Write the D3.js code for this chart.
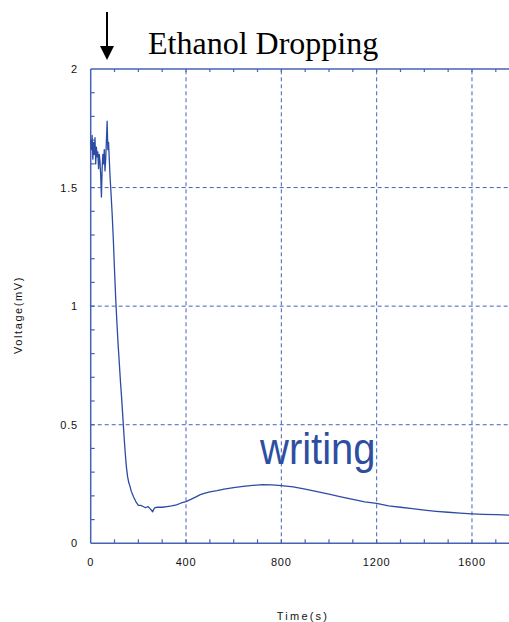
<!DOCTYPE html>
<html>
<head>
<meta charset="utf-8">
<script src="https://cdn.jsdelivr.net/npm/d3@7"></script>
<style>
  html, body { margin: 0; padding: 0; background: #fff; }
  svg { display: block; }
  .tick-label { font-family: "Liberation Sans", Arial, sans-serif; font-size: 11px; fill: #111; letter-spacing: 0.8px; }
</style>
</head>
<body>
<svg id="chart" width="509" height="622"></svg>
<script>
/* ── DATA ─────────────────────────────────────────────────────────────── */
const timeS = [0,3,6,9,12,15,18,21,24,27,30,33,36,39,42,45,48,51,54,57,60,63,66,69,72,75,78,81,85,90,95,100,105,110,115,120,125,130,135,140,145,150,155,160,165,170,180,190,200,210,220,230,240,250,260,265,270,280,300,320,340,360,380,400,420,440,460,480,500,530,560,600,640,680,720,760,800,850,900,950,1000,1050,1100,1150,1200,1250,1300,1350,1400,1450,1500,1550,1600,1650,1700,1760];
const voltage = [1.70,1.66,1.72,1.62,1.69,1.64,1.71,1.60,1.67,1.63,1.65,1.58,1.64,1.61,1.55,1.46,1.58,1.64,1.60,1.66,1.57,1.62,1.70,1.78,1.66,1.69,1.62,1.55,1.48,1.39,1.28,1.15,1.03,0.93,0.84,0.76,0.68,0.61,0.53,0.45,0.38,0.32,0.28,0.255,0.24,0.22,0.195,0.175,0.16,0.16,0.155,0.15,0.155,0.145,0.133,0.145,0.15,0.152,0.152,0.155,0.158,0.162,0.17,0.176,0.185,0.195,0.205,0.212,0.217,0.222,0.228,0.235,0.24,0.244,0.247,0.246,0.243,0.238,0.228,0.218,0.207,0.196,0.185,0.175,0.168,0.158,0.152,0.146,0.14,0.135,0.131,0.127,0.124,0.122,0.121,0.119];

const xMajor = [0, 400, 800, 1200, 1600];
const xMajorLabels = ['0', '400', '800', '1200', '1600'];
const yMajor = [0, 0.5, 1, 1.5, 2];
const yMajorLabels = ['0', '0.5', '1', '1.5', '2'];

/* ── LAYOUT ───────────────────────────────────────────────────────────── */
const AXIS = '#4562b6';
const LINE = '#2c4ca4';
const svg = d3.select('#chart');

const x = d3.scaleLinear().domain([0, 1800]).range([90.7, 90.7 + 1800 * 0.2383]);
const y = d3.scaleLinear().domain([0, 2]).range([543.3, 69]);

// gridlines
svg.append('g').selectAll('line')
  .data(xMajor.slice(1))
  .join('line')
  .attr('x1', d => x(d)).attr('x2', d => x(d))
  .attr('y1', y(0)).attr('y2', y(2))
  .attr('stroke', AXIS).attr('stroke-width', 1).attr('stroke-dasharray', '4,3');

svg.append('g').selectAll('line')
  .data(yMajor.slice(1, -1))
  .join('line')
  .attr('x1', x(0)).attr('x2', 509)
  .attr('y1', d => y(d)).attr('y2', d => y(d))
  .attr('stroke', AXIS).attr('stroke-width', 1).attr('stroke-dasharray', '4,3');

// frame (left, top, bottom)
const frame = svg.append('g').attr('stroke', AXIS).attr('stroke-width', 1.5);
frame.append('line').attr('x1', x(0)).attr('x2', x(0)).attr('y1', y(0)).attr('y2', y(2));
frame.append('line').attr('x1', x(0)).attr('x2', 509).attr('y1', y(2)).attr('y2', y(2));
frame.append('line').attr('x1', x(0)).attr('x2', 509).attr('y1', y(0)).attr('y2', y(0));

// minor ticks (inward)
const xMinor = d3.range(100, 1800, 100);
const yMinor = d3.range(1, 20).map(i => i / 10);
const ticks = svg.append('g').attr('stroke', AXIS).attr('stroke-width', 1.2);
ticks.selectAll('.bt').data(xMinor).join('line').attr('class', 'bt')
  .attr('x1', d => x(d)).attr('x2', d => x(d)).attr('y1', y(0)).attr('y2', y(0) - 4);
ticks.selectAll('.tt').data(xMinor).join('line').attr('class', 'tt')
  .attr('x1', d => x(d)).attr('x2', d => x(d)).attr('y1', y(2)).attr('y2', y(2) + 3);
ticks.selectAll('.lt').data(yMinor).join('line').attr('class', 'lt')
  .attr('x1', x(0)).attr('x2', x(0) + 4).attr('y1', d => y(d)).attr('y2', d => y(d));

// tick labels
svg.append('g').selectAll('text')
  .data(xMajor)
  .join('text')
  .attr('class', 'tick-label')
  .attr('x', d => x(d)).attr('y', 566)
  .attr('text-anchor', 'middle')
  .text((d, i) => xMajorLabels[i]);

svg.append('g').selectAll('text')
  .data(yMajor)
  .join('text')
  .attr('class', 'tick-label')
  .attr('x', 78).attr('y', d => y(d) + 4)
  .attr('text-anchor', 'end')
  .text((d, i) => yMajorLabels[i]);

// axis titles
svg.append('text')
  .attr('class', 'tick-label')
  .attr('transform', 'translate(22,315) rotate(-90)')
  .attr('text-anchor', 'middle')
  .style('letter-spacing', '1.6px')
  .text('Voltage(mV)');

svg.append('text')
  .attr('class', 'tick-label')
  .attr('x', 303).attr('y', 620)
  .attr('text-anchor', 'middle')
  .style('letter-spacing', '2.2px')
  .text('Time(s)');

// data line
const line = d3.line().x((d, i) => x(timeS[i])).y(d => y(d));
svg.append('path')
  .datum(voltage)
  .attr('d', line)
  .attr('fill', 'none')
  .attr('stroke', LINE)
  .attr('stroke-width', 1.3)
  .attr('stroke-linejoin', 'round');

// annotations
svg.append('line')
  .attr('x1', 107).attr('x2', 107).attr('y1', 12).attr('y2', 48)
  .attr('stroke', '#000').attr('stroke-width', 2);
svg.append('path')
  .attr('d', 'M100,46 L114,46 L107,60 Z')
  .attr('fill', '#000');

svg.append('text')
  .attr('x', 148).attr('y', 54)
  .attr('font-family', '"Liberation Serif", "Times New Roman", serif')
  .attr('font-size', 32)
  .attr('fill', '#000')
  .text('Ethanol Dropping');

svg.append('text')
  .attr('transform', 'translate(260,464) scale(1,1.12)')
  .attr('font-family', '"Liberation Sans", Arial, sans-serif')
  .attr('font-size', 40)
  .attr('fill', '#2e4f9f')
  .text('writing');
</script>
</body>
</html>
